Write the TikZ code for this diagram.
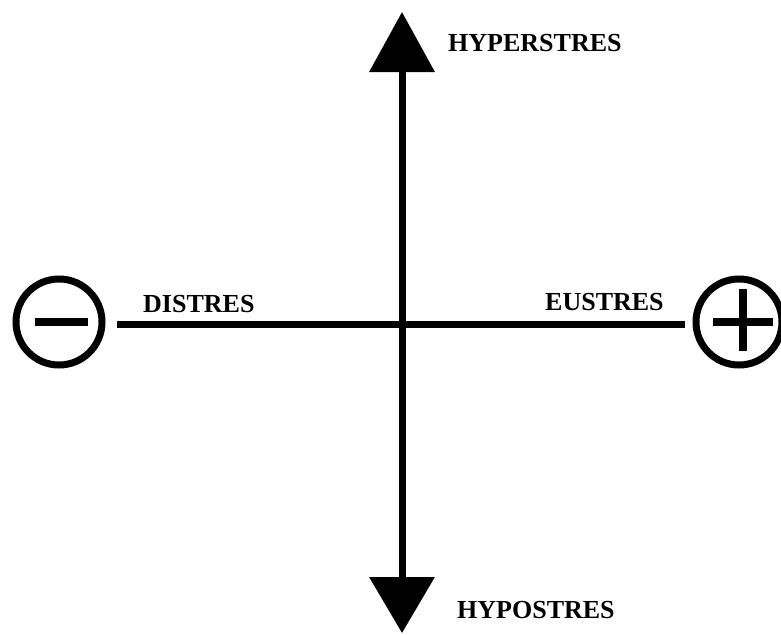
\documentclass[tikz,border=0pt]{standalone}
\usepackage{fontspec}
\setmainfont{Liberation Serif}
\usetikzlibrary{arrows.meta}
\begin{document}
\begin{tikzpicture}[x=1pt,y=-1pt,
  axis/.style={line width=7pt},
  sign/.style={circle,draw,line width=7pt,minimum size=86pt,inner sep=0pt},
  bar/.style={line width=7.5pt},
  lbl/.style={anchor=base west,inner sep=0pt,font=\fontsize{26}{30}\selectfont\bfseries}]
\useasboundingbox (0,0) rectangle (781,634);
\coordinate (top) at (402,12);
\coordinate (bot) at (402,633);
\coordinate (L) at (117,324);
\coordinate (R) at (685,324);
\draw[axis,{Triangle[width=64pt,length=60pt]}-{Triangle[width=64pt,length=56pt]}] (top) -- (bot);
\draw[axis] (L) -- (R);
\node[sign] (minus) at (59,322) {};
\node[sign] (plus) at (739,322) {};
\draw[bar] ([xshift=-24pt]minus.center) -- ([xshift=29pt]minus.center);
\draw[bar] ([xshift=-26pt]plus.center) -- ([xshift=34pt]plus.center);
\draw[bar] ([xshift=4pt,yshift=-29pt]plus.center) -- ([xshift=4pt,yshift=33pt]plus.center);
\node[lbl] (dis) at (143,312) {DISTRES};
\node[lbl] (eus) at (545,310) {EUSTRES};
\node[lbl] (hyper) at (448,52) {HYPERSTRES};
\node[lbl] (hypo) at (457,618) {HYPOSTRES};
\end{tikzpicture}
\end{document}
